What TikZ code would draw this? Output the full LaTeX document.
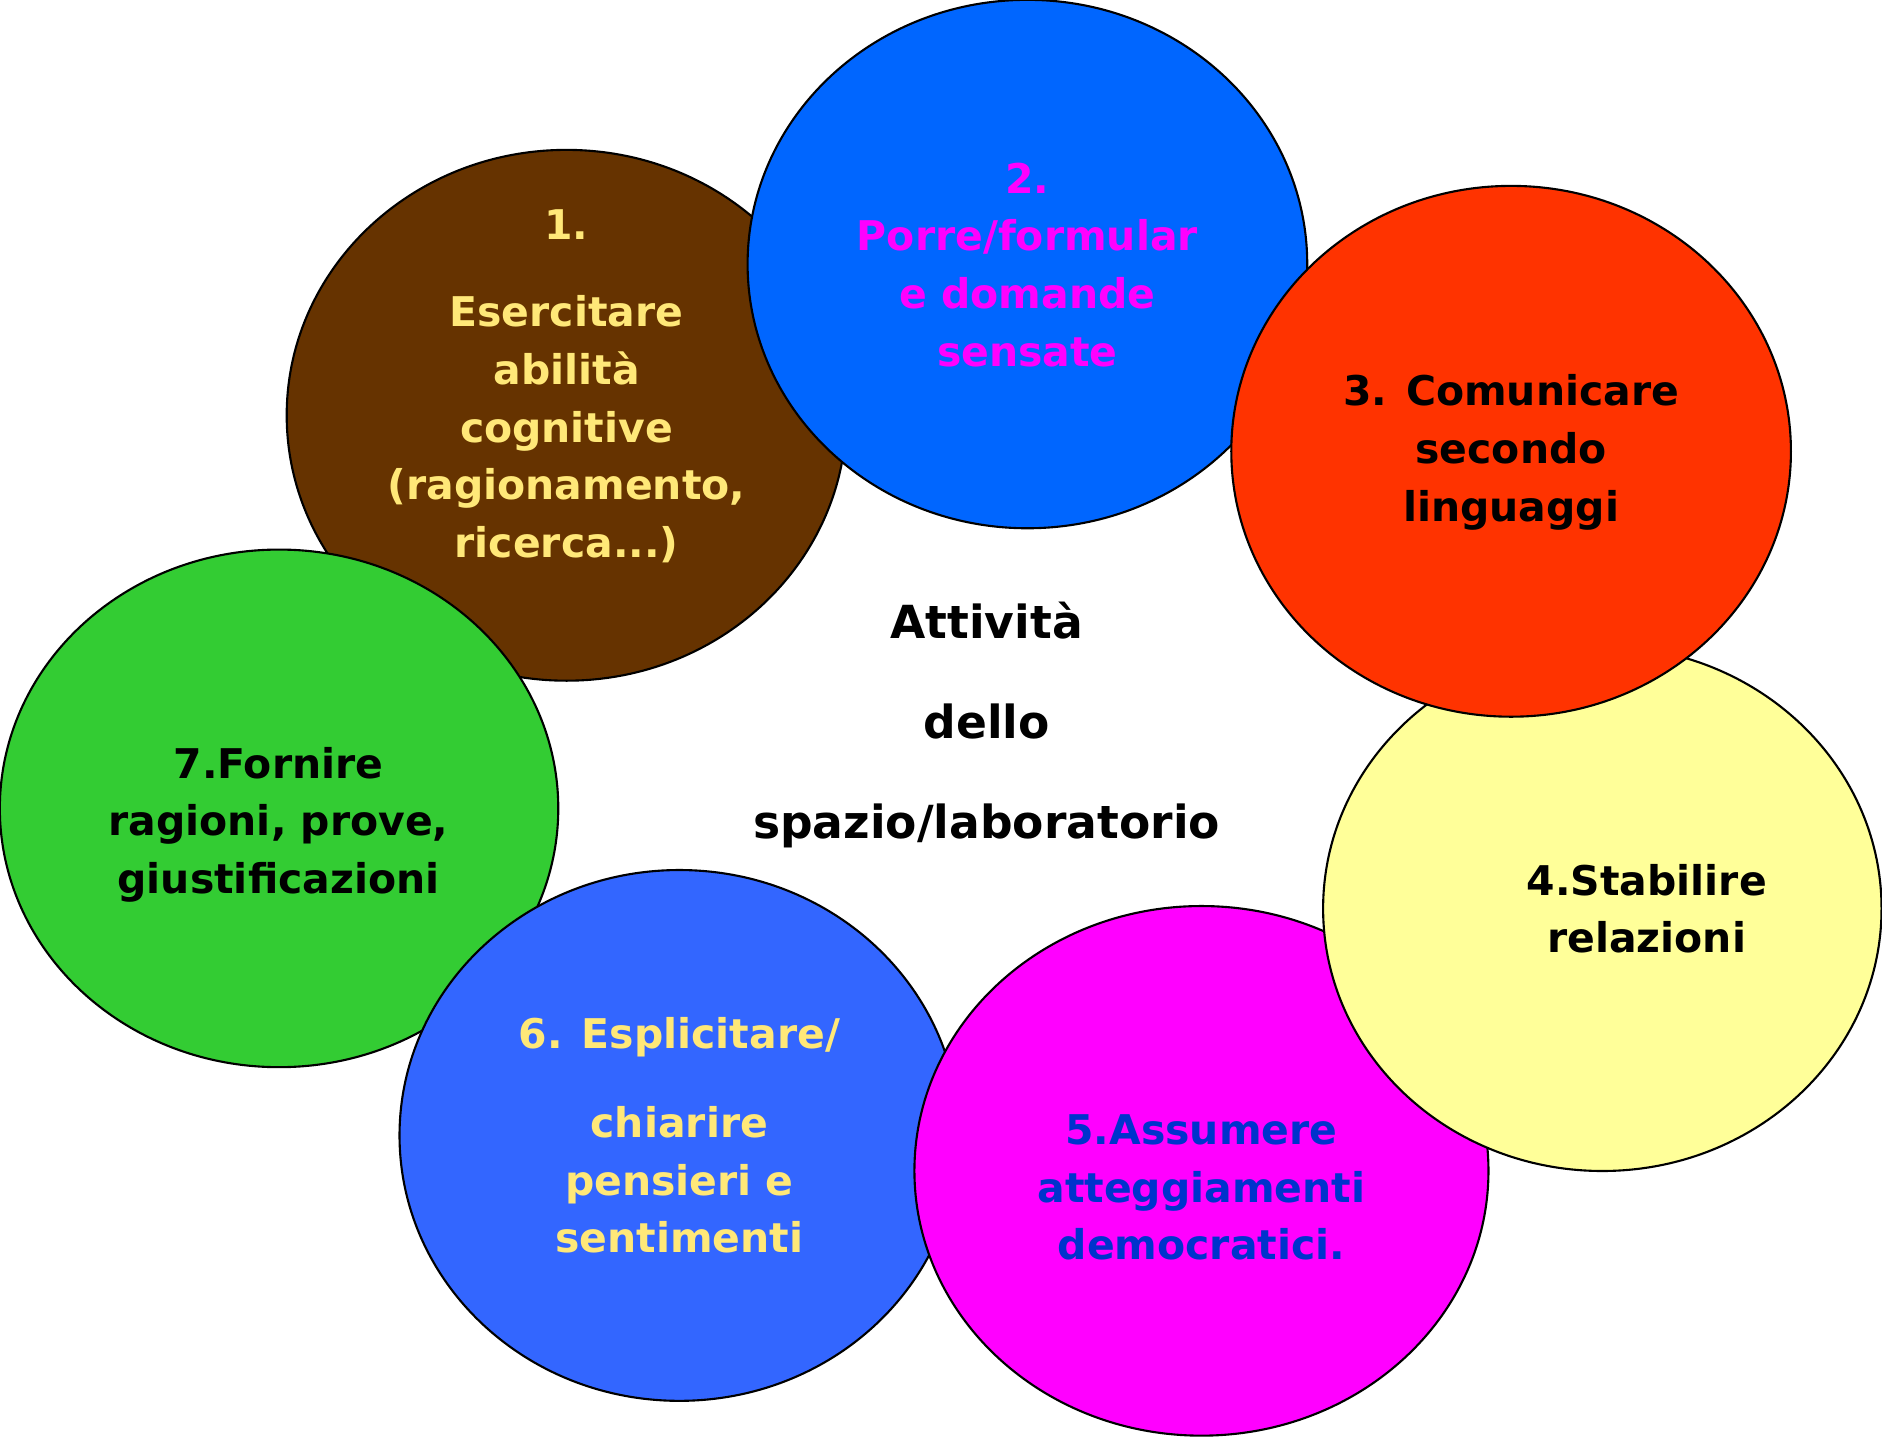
\documentclass[tikz,border=0pt]{standalone}
\usepackage{fontspec}
\setmainfont{DejaVu Sans}
\usetikzlibrary{shapes.geometric}
\definecolor{brownbg}{HTML}{663300}
\definecolor{bluebg}{HTML}{0066FF}
\definecolor{redbg}{HTML}{FF3300}
\definecolor{yellowbg}{HTML}{FFFF99}
\definecolor{magentabg}{HTML}{FF00FF}
\definecolor{lightbluebg}{HTML}{3366FF}
\definecolor{greenbg}{HTML}{33CC33}
\definecolor{txtyellow}{RGB}{255,232,120}
\definecolor{txtblue}{HTML}{0033CC}

\begin{document}
\begin{tikzpicture}[x=0.01cm, y=-0.01cm,
    bubble/.style={ellipse, draw=black, line width=0.5pt, inner sep=0pt},
    txt/.style={align=center, font=\fontsize{9.7}{13.66}\selectfont\bfseries},
    middle/.style={align=center, font=\fontsize{10.8}{23.6}\selectfont\bfseries}]
  \useasboundingbox (0,0) rectangle (1568,1200);

  \node (b1) [bubble, fill=brownbg, minimum width=4.66cm, minimum height=4.42cm] at (472,346) {};
  \node (t1) [txt, text=txtyellow] at (472,322) {1.\\[7pt]Esercitare\\abilità\\cognitive\\(ragionamento,\\ricerca...)};

  \node (b7) [bubble, fill=greenbg, minimum width=4.65cm, minimum height=4.31cm] at (232.5,673.5) {};
  \node (t7) [txt] at (232,687) {7.Fornire\\ragioni, prove,\\giustificazioni};

  \node (b6) [bubble, fill=lightbluebg, minimum width=4.66cm, minimum height=4.42cm] at (566,946) {};
  \node (t6) [txt, text=txtyellow] at (566,946) {6. Esplicitare/\\[7.4pt]chiarire\\pensieri e\\sentimenti};

  \node (b5) [bubble, fill=magentabg, minimum width=4.78cm, minimum height=4.41cm] at (1001,975.5) {};
  \node (t5) [txt, text=txtblue] at (1001,989.5) {5.Assumere\\atteggiamenti\\democratici.};

  \node (b4) [bubble, fill=yellowbg, minimum width=4.65cm, minimum height=4.37cm] at (1335,757) {};
  \node (t4) [txt] at (1372,757) {4.Stabilire\\relazioni};

  \node (b2) [bubble, fill=bluebg, minimum width=4.66cm, minimum height=4.40cm] at (856,220) {};
  \node (t2) [txt, text=magentabg] at (856,220.5) {2.\\Porre/formular\\e domande\\sensate};

  \node (b3) [bubble, fill=redbg, minimum width=4.66cm, minimum height=4.42cm] at (1259,376) {};
  \node (t3) [txt] at (1259,377) {3. Comunicare\\secondo\\linguaggi};

  \node (centre) [middle] at (822,604) {Attività\\dello\\spazio/laboratorio};
\end{tikzpicture}
\end{document}
